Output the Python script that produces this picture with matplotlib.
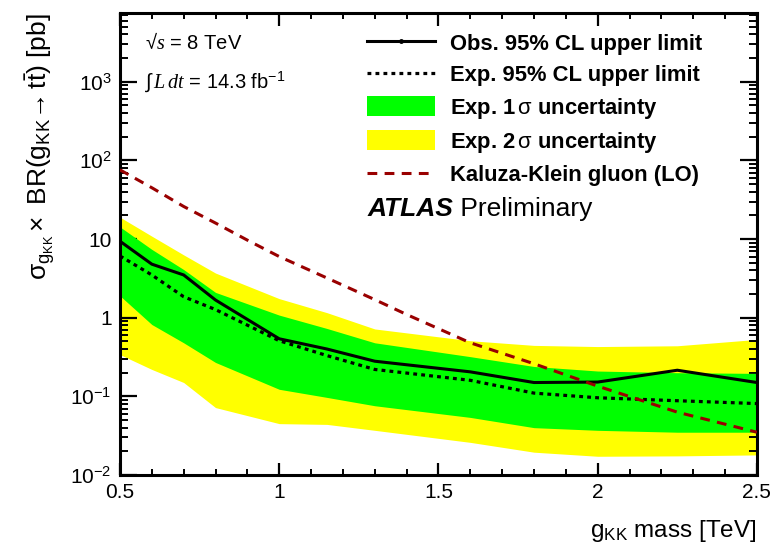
import matplotlib
matplotlib.use('Agg')
import matplotlib.pyplot as plt
from matplotlib.lines import Line2D
from matplotlib.patches import Patch
from matplotlib.ticker import MultipleLocator, LogLocator, FuncFormatter, NullFormatter

plt.rcParams['font.family'] = 'Liberation Sans'
plt.rcParams['mathtext.fontset'] = 'custom'
plt.rcParams['mathtext.rm'] = 'Liberation Sans'
plt.rcParams['mathtext.it'] = 'Liberation Serif:italic'
plt.rcParams['mathtext.bf'] = 'Liberation Sans:bold'

# points de masse (TeV) et limites
masse = [0.5, 0.6, 0.7, 0.8, 1.0, 1.15, 1.3, 1.6, 1.8, 2.0, 2.25, 2.5]
obs = [9.4, 4.8, 3.5, 1.68, 0.54, 0.40, 0.28, 0.205, 0.15, 0.152, 0.215, 0.15]
attendu = [6.1, 3.5, 1.85, 1.27, 0.51, 0.33, 0.22, 0.16, 0.11, 0.096, 0.088, 0.081]
sig1_haut = [14.3, 7.4, 4.1, 2.1, 1.08, 0.73, 0.48, 0.32, 0.24, 0.21, 0.20, 0.196]
sig1_bas = [1.9, 0.82, 0.48, 0.27, 0.123, 0.097, 0.076, 0.054, 0.040, 0.037, 0.035, 0.035]
sig2_haut = [19, 10.9, 6.3, 3.7, 1.75, 1.16, 0.72, 0.51, 0.445, 0.43, 0.44, 0.53]
sig2_bas = [0.34, 0.22, 0.15, 0.072, 0.045, 0.044, 0.037, 0.026, 0.0195, 0.0173, 0.0175, 0.018]

# section efficace du gluon KK (LO)
masse_kk = [0.5, 0.6, 0.7, 0.8, 0.9, 1.0, 1.15, 1.3, 1.4, 1.6, 1.8, 2.0, 2.25, 2.5]
kk = [76, 45, 26, 16, 9.7, 6.0, 3.2, 1.7, 1.1, 0.48, 0.26, 0.135, 0.063, 0.035]

etiquettes_y = {0.01: '10$^{-2}$', 0.1: '10$^{-1}$', 1: '1', 10: '10',
                100: '10$^{2}$', 1000: '10$^{3}$'}

vert = '#00ff00'
jaune = '#ffff00'
rouge = '#990000'

fig = plt.figure(figsize=(7.7, 5.54), dpi=100)
ax = fig.add_axes([0.1558, 0.1426, 0.8272, 0.8339])

ax.fill_between(masse, sig2_bas, sig2_haut, color=jaune, lw=0, zorder=1)
ax.fill_between(masse, sig1_bas, sig1_haut, color=vert, lw=0, zorder=2)
ax.plot(masse, attendu, color='black', lw=2.3, dashes=(1.2, 1.3), zorder=3)
ax.plot(masse, obs, color='black', lw=2.2, zorder=4)
ax.plot(masse_kk, kk, color=rouge, lw=2.2, dashes=(3.2, 2.4), zorder=5)

ax.set_yscale('log')
ax.set_xlim(0.5, 2.5)
ax.set_ylim(0.01, 7500)

ax.xaxis.set_major_locator(MultipleLocator(0.5))
ax.xaxis.set_minor_locator(MultipleLocator(0.1))
ax.xaxis.set_major_formatter(FuncFormatter(lambda v, p: ('%g' % v)))
ax.yaxis.set_major_locator(LogLocator(base=10, numticks=10))
ax.yaxis.set_minor_locator(LogLocator(base=10, subs=range(2, 10), numticks=20))
ax.yaxis.set_major_formatter(FuncFormatter(lambda v, p: etiquettes_y.get(round(v, 3), '')))
ax.yaxis.set_minor_formatter(NullFormatter())

ax.tick_params(which='both', direction='in', top=True, right=True, labelsize=15)
ax.tick_params(axis='x', which='major', length=9, width=1.6, pad=6)
ax.tick_params(axis='x', which='minor', length=4.5, width=1.4)
ax.tick_params(axis='y', which='major', length=12, width=1.6, pad=6)
ax.tick_params(axis='y', which='minor', length=5.5, width=1.4)
for c in ax.spines.values():
    c.set_linewidth(2.2)

ax.set_ylabel(r'$\mathrm{\sigma}_{\mathrm{g}_{\mathrm{KK}}}\times$ BR($\mathrm{g}_{\mathrm{KK}}\!\rightarrow \mathrm{t}\bar{\mathrm{t}}$) [pb]',
              fontsize=19, loc='top')
ax.yaxis.set_label_coords(-0.097, 1.0)
ax.set_xlabel(r'$\mathrm{g}_{\mathrm{KK}}$ mass [TeV]', fontsize=17.5, loc='right')
ax.xaxis.set_label_coords(1.0, -0.093)

# textes
ax.text(0.04, 0.937, '√$s$ = 8 TeV', transform=ax.transAxes, fontsize=14.5, va='center')
ax.text(0.04, 0.852, r'$\int\, L\,dt$ = 14.3 fb$^{-1}$', transform=ax.transAxes, fontsize=14.5, va='center')
t = ax.text(0.388, 0.56, 'ATLAS', transform=ax.transAxes, fontsize=19,
            fontweight='bold', fontstyle='italic', va='baseline')
ax.annotate(' Preliminary', xy=(1, 0), xycoords=t, fontsize=19, va='bottom')

# legende
poignees = [Line2D([], [], color='black', lw=2.2, marker='o', markersize=2.5),
            Line2D([], [], color='black', lw=2.3, dashes=(1.2, 1.3)),
            Patch(facecolor=vert, edgecolor='none'),
            Patch(facecolor=jaune, edgecolor='none'),
            Line2D([], [], color=rouge, lw=2.2, dashes=(3.2, 2.4))]
noms = ['Obs. 95% CL upper limit', 'Exp. 95% CL upper limit',
        r'Exp. 1$\,\mathrm{\sigma}$ uncertainty', r'Exp. 2$\,\mathrm{\sigma}$ uncertainty',
        'Kaluza-Klein gluon (LO)']
ax.legend(poignees, noms, loc='upper left', bbox_to_anchor=(0.388, 0.958),
          frameon=False, borderpad=0, borderaxespad=0, handlelength=3.1,
          handleheight=1.0, handletextpad=0.7, labelspacing=0.42,
          prop={'weight': 'bold', 'size': 15.8})

fig.savefig('out.png', dpi=100)
